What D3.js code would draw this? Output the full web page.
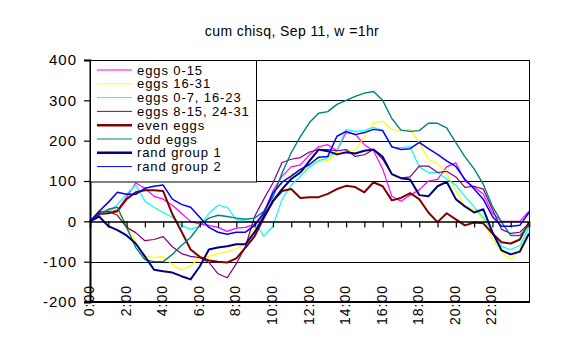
<!DOCTYPE html>
<html><head><meta charset="utf-8">
<script src="https://cdn.jsdelivr.net/npm/d3@7/dist/d3.min.js"></script>
<style>body{margin:0;background:#fff}svg{display:block}text{font-family:"Liberation Sans",Arial,sans-serif;fill:#000}</style>
</head><body>
<svg id="c" width="583" height="358"></svg>
<script>
// ---- data ----
const hours = d3.range(0, 24.001, 0.5);
const seriesNames = ["eggs 0-15","eggs 16-31","eggs 0-7, 16-23","eggs 8-15, 24-31","even eggs","odd eggs","rand group 1","rand group 2"];
const eggs0_15 = [0,25,25,28,60,95,82,62,55,40,20,0,-7,-10,-15,-25,-17,-15,-7,22,75,112,135,140,165,185,190,175,220,216,190,175,130,62,50,65,78,100,104,135,145,100,85,68,20,0,0,0,25];
const eggs16_31 = [0,28,30,22,-5,-55,-87,-90,-87,-108,-120,-110,-90,-87,-80,-75,-68,-55,-12,15,62,95,117,122,135,155,150,171,174,175,210,245,248,228,225,228,195,154,142,120,75,37,30,5,-45,-75,-95,-70,-10];
const eggs0_7_16_23 = [0,18,22,42,68,90,50,35,22,10,-10,-20,-12,20,40,35,5,0,0,-37,-12,55,90,112,135,150,158,175,228,223,225,233,225,183,183,185,135,121,121,105,90,62,35,10,-27,-62,-70,-60,-15];
const eggs8_15_24_31 = [0,22,25,15,-15,-28,-48,-45,-38,-63,-80,-87,-90,-102,-130,-140,-105,-62,12,55,95,146,154,158,172,178,178,175,178,161,165,178,154,117,107,110,137,137,121,124,110,84,87,80,30,-20,-30,-27,-5];
const evenEggs = [0,18,20,25,55,72,77,77,75,18,-25,-70,-88,-97,-100,-102,-92,-65,-37,8,50,75,80,58,60,60,68,80,88,85,72,97,87,52,58,70,55,22,-2,20,5,-10,-3,-5,-30,-52,-55,-45,-2];
const oddEggs = [0,15,30,35,-15,-65,-95,-100,-100,-82,-60,-40,-10,8,15,12,8,5,8,25,60,120,170,210,245,268,272,290,300,310,318,322,300,255,226,223,225,243,243,232,195,160,130,92,37,-2,-35,-35,-10];
const randGroup1 = [0,12,-12,-22,-35,-55,-87,-120,-124,-127,-136,-144,-112,-70,-65,-62,-57,-57,-27,12,50,80,105,121,150,178,174,166,171,168,175,178,160,117,107,104,65,62,87,98,55,37,22,30,-27,-72,-82,-75,-30];
const randGroup2 = [0,25,47,72,67,67,82,87,90,55,42,35,10,-15,-27,-32,-27,-27,-10,20,70,97,112,129,141,159,161,211,223,215,220,228,225,185,178,180,196,180,166,150,136,104,80,55,12,-12,-12,-10,22];
const seriesColors = ["#ff00ff","#ffff00","#00ffff","#800080","#800000","#008080","#000080","#0000ff"];
const seriesWidths = [1.2,1.2,1.2,1.2,2,1.4,2,1.5];
const legendWidths = [1,1,1,1,2.5,1,2.5,1];
const yTicks = [-200,-100,0,100,200,300,400];
const gridValues = [-100,100,200,300,400];
const xLabelHours = [0,2,4,6,8,10,12,14,16,18,20,22];
const xLabels = ["0:00","2:00","4:00","6:00","8:00","10:00","12:00","14:00","16:00","18:00","20:00","22:00"];
const titleText = "cum chisq, Sep 11, w =1hr";

const seriesValues = [eggs0_15, eggs16_31, eggs0_7_16_23, eggs8_15_24_31, evenEggs, oddEggs, randGroup1, randGroup2];

// ---- drawing ----
const svg = d3.select("#c");
const x = d3.scaleLinear().domain([0,24]).range([90,529]);
const y = d3.scaleLinear().domain([-200,400]).range([302,60]);

svg.append("rect").attr("width",583).attr("height",358).attr("fill","#fff");

// title
svg.append("text").attr("x",292).attr("y",36).attr("text-anchor","middle")
  .style("font-size","14px").style("letter-spacing","0.4px").text(titleText);

// gridlines
svg.append("g").selectAll("line").data(gridValues).join("line")
  .attr("x1",x(0)).attr("x2",x(24))
  .attr("y1",d=>Math.round(y(d))+0.5).attr("y2",d=>Math.round(y(d))+0.5)
  .attr("stroke","#000").attr("stroke-width",1);

// right border
svg.append("line").attr("x1",x(24)+0.5).attr("x2",x(24)+0.5).attr("y1",y(400)).attr("y2",y(-200))
  .attr("stroke","#000").attr("stroke-width",1);

// series lines
const line = d3.line().x((d,i)=>x(hours[i])).y(d=>y(d));
const gl = svg.append("g");
seriesValues.forEach((vals,k)=>{
  gl.append("path").datum(vals).attr("d",line).attr("fill","none")
    .attr("stroke",seriesColors[k]).attr("stroke-width",seriesWidths[k])
    .attr("stroke-linejoin","round");
});

// x axis at zero with hourly ticks
const xAxis = d3.axisBottom(x).tickValues(d3.range(0,25,1)).tickSize(6).tickFormat("");
const gx = svg.append("g").attr("transform",`translate(0,${Math.round(y(0))+0.5})`).call(xAxis);
gx.select(".domain").attr("stroke","#000").attr("stroke-width",1.5);
gx.selectAll(".tick line").attr("stroke","#000").attr("stroke-width",1.2);

// bottom border
svg.append("line").attr("x1",84).attr("x2",x(24)+1).attr("y1",y(-200)).attr("y2",y(-200))
  .attr("stroke","#000").attr("stroke-width",2);

// y axis
const yAxis = d3.axisLeft(y).tickValues(yTicks).tickSize(6).tickFormat("");
const gy = svg.append("g").attr("transform","translate(90,0)").call(yAxis);
gy.select(".domain").attr("stroke","#000").attr("stroke-width",2);
gy.selectAll(".tick line").attr("stroke","#000").attr("stroke-width",1.2);

// y labels
svg.append("g").selectAll("text").data(yTicks).join("text")
  .attr("x",77).attr("y",d=>y(d)).attr("dy","0.36em").attr("text-anchor","end")
  .style("font-size","15px").style("letter-spacing","1px").text(d=>d);

// x labels (rotated)
svg.append("g").selectAll("text").data(xLabelHours).join("text")
  .attr("transform",(d)=>`translate(${x(d)-1},285) rotate(-90)`)
  .attr("dy","0.36em").attr("text-anchor","end")
  .style("font-size","14px").style("letter-spacing","1px")
  .text((d,i)=>xLabels[i]);

// legend
const lg = svg.append("g");
lg.append("rect").attr("x",90.5).attr("y",60.5).attr("width",166).attr("height",121.5)
  .attr("fill","#fff").attr("stroke","#000").attr("stroke-width",1);
seriesNames.forEach((name,i)=>{
  const cy = 70 + i*13.8;
  lg.append("line").attr("x1",97).attr("x2",132).attr("y1",cy).attr("y2",cy)
    .attr("stroke",seriesColors[i]).attr("stroke-width",legendWidths[i]);
  lg.append("text").attr("x",137).attr("y",cy).attr("dy","0.36em")
    .style("font-size","13px").style("letter-spacing","0.9px").text(name);
});
</script>
</body></html>
